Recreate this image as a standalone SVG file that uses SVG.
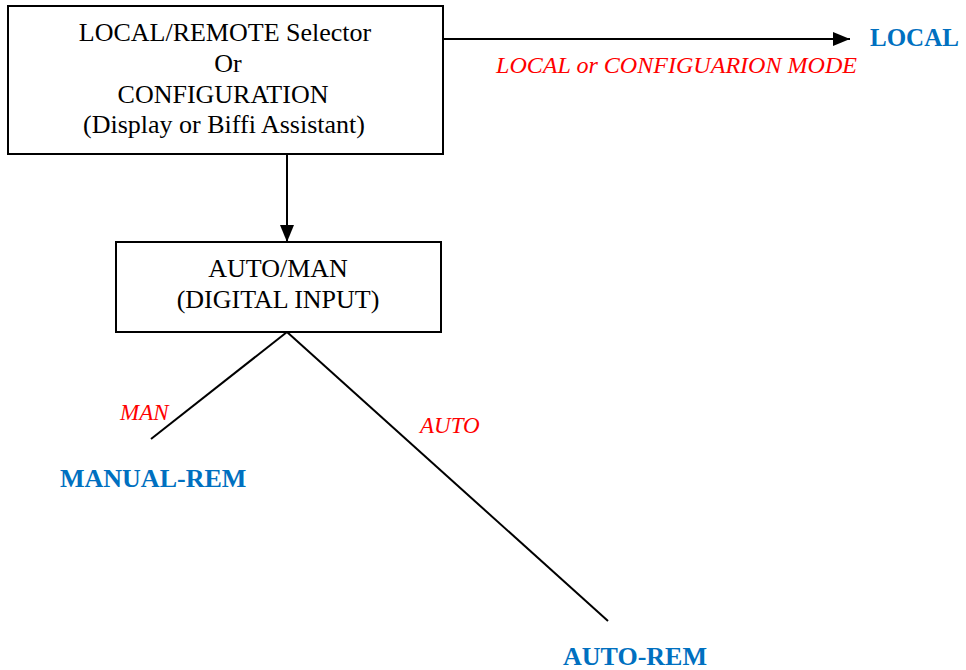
<svg xmlns="http://www.w3.org/2000/svg" width="966" height="670" viewBox="0 0 966 670">
<style>
.box{fill:#fff;stroke:#000;stroke-width:2}
.t{font-family:"Liberation Serif","Times New Roman",serif;font-size:26px;fill:#000;text-anchor:middle}
.lbl{font-family:"Liberation Serif","Times New Roman",serif;font-style:italic;font-size:23px;fill:#ff0000}
.out{font-family:"Liberation Serif","Times New Roman",serif;font-weight:bold;font-size:26px;fill:#0070c0}
.c{stroke:#000;stroke-width:2;fill:none}
</style>
<defs>
<marker id="ah" markerWidth="17" markerHeight="14" refX="17" refY="7" orient="auto" markerUnits="userSpaceOnUse">
<path d="M0,0 L17,7 L0,14 Z" fill="#000"/>
</marker>
</defs>
<rect width="966" height="670" fill="#fff"/>
<g id="connectors">
<line class="c" x1="443" y1="39" x2="850" y2="39" marker-end="url(#ah)"/>
<line class="c" x1="287" y1="154" x2="287" y2="242" marker-end="url(#ah)"/>
<line class="c" x1="287" y1="332" x2="151" y2="439"/>
<line class="c" x1="287" y1="332" x2="608" y2="621"/>
<text class="lbl" x="496" y="73" textLength="361" lengthAdjust="spacingAndGlyphs">LOCAL or CONFIGUARION MODE</text>
<text class="lbl" x="120" y="420">MAN</text>
<text class="lbl" x="420" y="433">AUTO</text>
</g>
<g id="selector">
<rect class="box" x="8" y="6" width="435" height="148"/>
<text class="t" x="225" y="41">LOCAL/REMOTE Selector</text>
<text class="t" x="228" y="72">Or</text>
<text class="t" x="223" y="103">CONFIGURATION</text>
<text class="t" x="224" y="133">(Display or Biffi Assistant)</text>
</g>
<g id="automan">
<rect class="box" x="116" y="242" width="325" height="90"/>
<text class="t" x="278" y="277">AUTO/MAN</text>
<text class="t" x="278" y="308">(DIGITAL INPUT)</text>
</g>
<g id="local"><text class="out" x="870" y="46" style="font-size:25px">LOCAL</text></g>
<g id="manual-rem"><text class="out" x="60" y="487">MANUAL-REM</text></g>
<g id="auto-rem"><text class="out" x="563" y="665">AUTO-REM</text></g>
</svg>
